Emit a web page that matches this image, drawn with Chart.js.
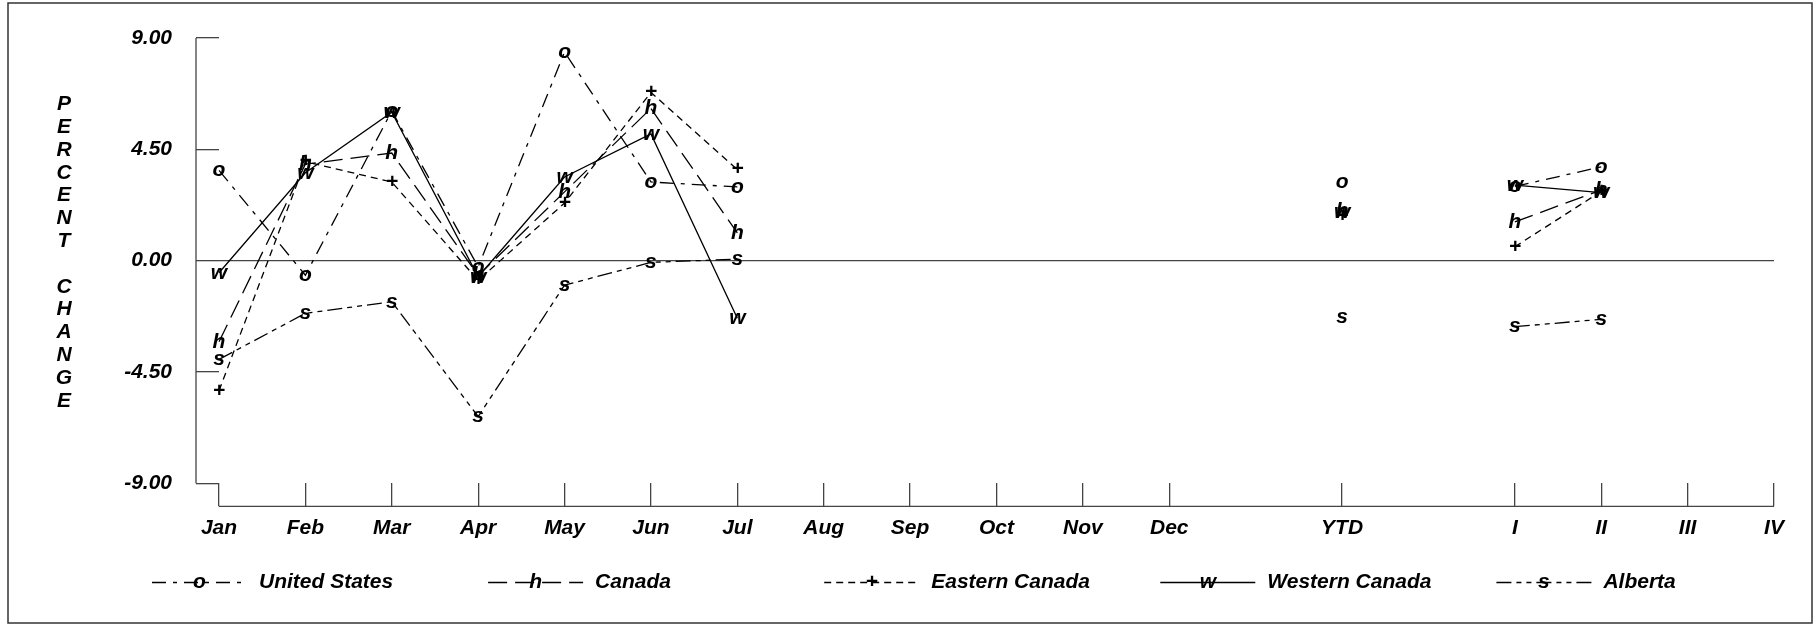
<!DOCTYPE html>
<html>
<head>
<meta charset="utf-8">
<script src="https://cdn.jsdelivr.net/npm/chart.js@4.4.1/dist/chart.umd.min.js"></script>
<style>
html,body{margin:0;padding:0;background:#fff;}
#wrap{width:1814px;height:626px;position:relative;}
</style>
</head>
<body>
<div id="wrap"><canvas id="c" width="1814" height="626"></canvas></div>
<script>
// ---------- data ----------
const categories = ['Jan','Feb','Mar','Apr','May','Jun','Jul','Aug','Sep','Oct','Nov','Dec','','YTD','','I','II','III','IV'];
const yTicks = [-9, -4.5, 0, 4.5, 9];

const unitedStates  = [3.65, -0.59, 6.05, -0.25, 8.43, 3.18, 2.98, null, null, null, null, null, null, 3.18, null, 3.00, 3.79, null, null];
const canada        = [-3.28, 3.90, 4.35, -0.60, 2.78, 6.15, 1.12, null, null, null, null, null, null, 2.00, null, 1.57, 2.85, null, null];
const easternCanada = [-5.26, 4.00, 3.18, -0.80, 2.33, 6.80, 3.68, null, null, null, null, null, null, 1.80, null, 0.56, 2.80, null, null];
const westernCanada = [-0.49, 3.55, 6.00, -0.65, 3.38, 5.12, -2.33, null, null, null, null, null, null, 1.95, null, 3.05, 2.75, null, null];
const alberta       = [-3.99, -2.13, -1.66, -6.30, -0.99, -0.07, 0.06, null, null, null, null, null, null, -2.28, null, -2.67, -2.37, null, null];

const seriesNames   = ['United States', 'Canada', 'Eastern Canada', 'Western Canada', 'Alberta'];
const seriesMarkers = ['o', 'h', '+', 'w', 's'];
const seriesValues  = [unitedStates, canada, easternCanada, westernCanada, alberta];
const seriesDashes  = [[14, 7, 4, 7], [19, 8], [7, 5], [], [15, 5, 5, 5, 5, 5]];
const axisTitleLetters = ['P','E','R','C','E','N','T','','C','H','A','N','G','E'];

// ---------- style ----------
const FONT_FAMILY = '"Liberation Sans", Arial, Helvetica, sans-serif';
const FONT = 'italic bold 21px ' + FONT_FAMILY;
const AXIS_COLOR = '#444';

const decoPlugin = {
  id: 'deco',
  beforeDraw(chart) {
    const ctx = chart.ctx;
    ctx.save();
    ctx.fillStyle = '#fff';
    ctx.fillRect(0, 0, chart.width, chart.height);
    ctx.restore();
  },
  afterDatasetsDraw(chart) {
    const ctx = chart.ctx;
    ctx.save();
    ctx.font = FONT;
    ctx.fillStyle = '#000';
    ctx.textAlign = 'center';
    ctx.textBaseline = 'middle';
    chart.data.datasets.forEach((ds, i) => {
      const meta = chart.getDatasetMeta(i);
      meta.data.forEach((el, j) => {
        if (ds.data[j] === null || ds.data[j] === undefined) return;
        ctx.fillText(seriesMarkers[i], el.x, el.y);
      });
    });
    ctx.restore();
  },
  afterDraw(chart) {
    const ctx = chart.ctx;
    const area = chart.chartArea;
    const xS = chart.scales.x, yS = chart.scales.y;
    ctx.save();
    // axis lines
    ctx.strokeStyle = AXIS_COLOR;
    ctx.lineWidth = 1.3;
    ctx.beginPath();
    ctx.moveTo(area.left - 23, yS.getPixelForValue(yTicks[yTicks.length - 1]));
    ctx.lineTo(area.left - 23, yS.getPixelForValue(yTicks[0]));
    ctx.stroke();
    ctx.beginPath();
    ctx.moveTo(xS.getPixelForValue(0), area.bottom + 23);
    ctx.lineTo(xS.getPixelForValue(categories.length - 1), area.bottom + 23);
    ctx.stroke();

    // y title (stacked letters)
    ctx.font = FONT;
    ctx.fillStyle = '#000';
    ctx.textAlign = 'center';
    ctx.textBaseline = 'middle';
    const step = 22.8;
    const midY = (area.top + area.bottom) / 2 - 8;
    const y0 = midY - step * (axisTitleLetters.length - 1) / 2;
    axisTitleLetters.forEach((ch, k) => {
      if (ch) ctx.fillText(ch, 64, y0 + k * step);
    });

    // legend
    const legY = 582.5;
    const legX0 = 152;
    const legStep = 336.1;
    const sampleLen = 95;
    chart.data.datasets.forEach((ds, i) => {
      const x = legX0 + i * legStep;
      ctx.strokeStyle = '#000';
      ctx.lineWidth = 1.3;
      ctx.setLineDash(seriesDashes[i]);
      ctx.beginPath();
      ctx.moveTo(x, legY);
      ctx.lineTo(x + sampleLen, legY);
      ctx.stroke();
      ctx.setLineDash([]);
      ctx.textAlign = 'center';
      ctx.fillText(seriesMarkers[i], x + sampleLen / 2, legY);
      ctx.textAlign = 'left';
      ctx.fillText(seriesNames[i], x + 107, legY);
    });

    // outer frame
    ctx.strokeStyle = '#333';
    ctx.lineWidth = 1.5;
    ctx.strokeRect(8, 3, chart.width - 10, chart.height - 6);
    ctx.restore();
  }
};

const datasets = seriesValues.map((vals, i) => ({
  label: seriesNames[i],
  data: vals,
  borderColor: '#000',
  backgroundColor: '#000',
  borderWidth: 1.3,
  borderDash: seriesDashes[i],
  pointRadius: 0,
  pointHoverRadius: 0,
  pointHitRadius: 0,
  spanGaps: false,
  tension: 0,
  fill: false
}));

new Chart(document.getElementById('c'), {
  type: 'line',
  data: { labels: categories, datasets },
  options: {
    responsive: false,
    animation: false,
    devicePixelRatio: 1,
    layout: { padding: { top: 38, right: 40, bottom: 82.7, left: 0 } },
    plugins: { legend: { display: false }, tooltip: { enabled: false } },
    scales: {
      x: {
        type: 'category',
        offset: false,
        border: { display: false },
        grid: {
          display: true,
          drawOnChartArea: false,
          drawTicks: true,
          tickLength: 23,
          lineWidth: 1.3,
          tickColor: (c) => categories[c.index] ? AXIS_COLOR : 'rgba(0,0,0,0)'
        },
        ticks: {
          autoSkip: false,
          maxRotation: 0,
          minRotation: 0,
          padding: 9,
          color: '#000',
          font: { family: FONT_FAMILY, size: 21, weight: 'bold', style: 'italic' }
        },
        afterFit: (s) => { s.height = 60; }
      },
      y: {
        type: 'linear',
        min: yTicks[0],
        max: yTicks[yTicks.length - 1],
        border: { display: false },
        afterBuildTicks: (s) => { s.ticks = yTicks.map(v => ({ value: v })); },
        grid: {
          display: true,
          drawOnChartArea: true,
          drawTicks: true,
          tickLength: 23,
          lineWidth: 1.3,
          color: (c) => (c.tick && c.tick.value === 0) ? AXIS_COLOR : 'rgba(0,0,0,0)',
          tickColor: AXIS_COLOR
        },
        ticks: {
          padding: 24,
          color: '#000',
          font: { family: FONT_FAMILY, size: 21, weight: 'bold', style: 'italic' },
          callback: (v) => Number(v).toFixed(2)
        },
        afterFit: (s) => { s.width = 219; }
      }
    }
  },
  plugins: [decoPlugin]
});
</script>
</body>
</html>
